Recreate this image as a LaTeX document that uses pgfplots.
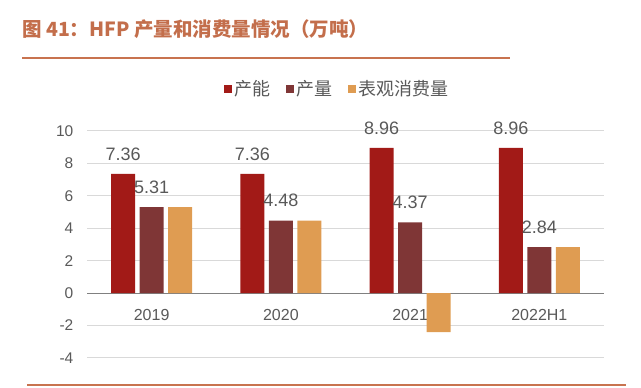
\documentclass[border=0pt]{standalone}
\usepackage{pgfplots}
\pgfplotsset{compat=1.18}
\usepackage{fontspec}
\setmainfont{Liberation Sans}
\newfontfamily\cjk{Noto Sans CJK SC}
\definecolor{cRed}{HTML}{A21A17}
\definecolor{cBrown}{HTML}{7F3636}
\definecolor{cOrange}{HTML}{DF9C52}
\definecolor{cTitle}{HTML}{C36E4B}
\definecolor{cLine}{HTML}{C8734F}
\definecolor{cText}{HTML}{595959}
\definecolor{cGrid}{HTML}{D9D9D9}
\definecolor{cAxis}{HTML}{808080}
\pgfplotsset{/pgf/number format/assume math mode=true}
\begin{document}
\begin{tikzpicture}
\path[use as bounding box] (0pt,0pt) rectangle (641pt,388pt);
\node[anchor=west, text=cTitle, font=\cjk\bfseries\fontsize{19.5pt}{22pt}\selectfont, inner sep=0pt] at (22pt,359pt) {图 41：HFP 产量和消费量情况（万吨）};
\draw[cLine, line width=2pt] (22pt,330pt) -- (510pt,330pt);
\draw[cLine, line width=2.5pt] (27pt,3pt) -- (626pt,3pt);
\begin{axis}[
  at={(87pt,30pt)}, anchor=south west,
  scale only axis, width=517pt, height=227pt,
  xmin=-0.5, xmax=3.5, ymin=-4, ymax=10,
  axis x line=middle, axis y line=left,
  y axis line style={draw=none},
  x axis line style={cAxis, line width=1.1pt, -},
  hide obscured x ticks=false, hide obscured y ticks=false,
  xtick={0,1,2,3},
  xticklabels={2019,2020,2021,2022H1},
  major x tick style={draw=none},
  extra x ticks={-0.5,0.5,1.5,2.5,3.5},
  extra x tick labels={},
  extra x tick style={major tick length=5pt, xtick align=outside, tick style={cAxis, line width=1.1pt}},
  ytick={-4,-2,0,2,4,6,8,10},
  major y tick style={draw=none},
  ymajorgrids, grid style={cGrid, line width=1pt},
  tick label style={text=cText},
  xticklabel style={font=\fontsize{16pt}{18pt}\selectfont, yshift=-8pt},
  yticklabel style={font=\fontsize{15.5pt}{18pt}\selectfont, xshift=-8pt},
  ybar, bar width=24pt,
  legend columns=3,
  legend style={draw=none, fill=none, at={(0.4836,1.185)}, anchor=center,
    font=\cjk\fontsize{18pt}{20pt}\selectfont, text=cText,
    /tikz/every odd column/.append style={column sep=0pt},
    /tikz/every even column/.append style={column sep=14pt}},
  legend image code/.code={\fill[#1] (0pt,-4pt) rectangle (8pt,4pt);},
  nodes near coords style={font=\fontsize{18pt}{20pt}\selectfont, text=cText, anchor=south, yshift=10pt},
  clip=false,
]
\addplot[fill=cRed, draw=none, bar shift=-28.5pt, nodes near coords={\pgfmathprintnumber[fixed,precision=2,fixed zerofill]{\pgfplotspointmeta}}] coordinates {(0,7.36) (1,7.36) (2,8.96) (3,8.96)};
\addlegendentry{产能}
\addplot[fill=cBrown, draw=none, bar shift=0pt, nodes near coords={\pgfmathprintnumber[fixed,precision=2,fixed zerofill]{\pgfplotspointmeta}}] coordinates {(0,5.31) (1,4.48) (2,4.37) (3,2.84)};
\addlegendentry{产量}
\addplot[fill=cOrange, draw=none, bar shift=28.5pt] coordinates {(0,5.31) (1,4.48) (2,-2.4) (3,2.84)};
\addlegendentry{表观消费量}
\end{axis}
\end{tikzpicture}
\end{document}
